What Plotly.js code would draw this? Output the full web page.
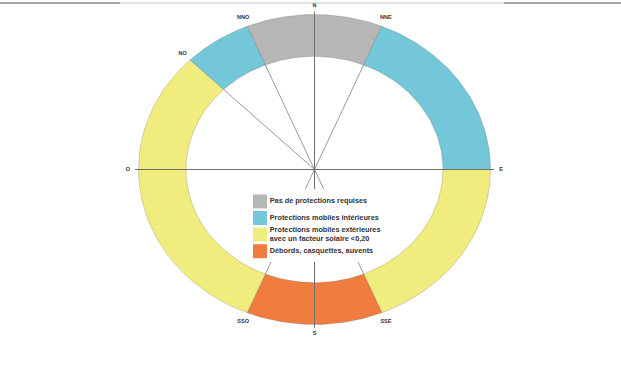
<!DOCTYPE html>
<html>
<head>
<meta charset="utf-8">
<script src="https://cdn.plot.ly/plotly-3.0.1.min.js"></script>
<style>html,body{margin:0;padding:0;background:#fff;}#chart{width:621px;height:376px;}</style>
</head>
<body>
<div id="chart"></div>
<script>
// ---- data ----
const directions = ['N', 'NNE', 'E', 'SSE', 'S', 'SSO', 'O', 'NO', 'NNO'];
const directionAngles = [0, 22.5, 90, 157.5, 180, 202.5, 270, 315, 337.5];
const categories = [
  'Pas de protections requises',
  'Protections mobiles intérieures',
  'Protections mobiles extérieures<br>avec un facteur solaire &lt;0,20',
  'Débords, casquettes, auvents'
];
const categoryColors = ['#b6b6b6', '#74c6d9', '#f1ec7e', '#f07d3f'];
const categoryOrder = [0, 1, 2, 3];
const sectorStart = [-22.5, 22.5, 90, 157.5, 202.5, 315];
const sectorEnd = [22.5, 90, 157.5, 202.5, 315, 337.5];
const sectorCategory = [0, 1, 2, 3, 2, 1];
const guideAngles = [315, 337.5, 22.5, 157.5, 202.5];
const axisAngles = [0, 90];

// ---- geometry helpers (unit circle, compass angles clockwise from north) ----
const R_OUT = 1.0, R_IN = 0.73, R_LABEL = 1.06;
const rad = a => a * Math.PI / 180;
const px = (r, a) => r * Math.sin(rad(a));
const py = (r, a) => r * Math.cos(rad(a));
const FONT = 'Liberation Sans, Arial, sans-serif';

const traces = [];
sectorStart.forEach((s, i) => {
  const e = sectorEnd[i];
  const xs = [], ys = [];
  const n = 40;
  for (let k = 0; k <= n; k++) { const a = s + (e - s) * k / n; xs.push(px(R_OUT, a)); ys.push(py(R_OUT, a)); }
  for (let k = n; k >= 0; k--) { const a = s + (e - s) * k / n; xs.push(px(R_IN, a)); ys.push(py(R_IN, a)); }
  xs.push(xs[0]); ys.push(ys[0]);
  traces.push({
    type: 'scatter', mode: 'lines', x: xs, y: ys, fill: 'toself',
    fillcolor: categoryColors[sectorCategory[i]],
    line: {color: 'rgba(90,90,90,0.25)', width: 1},
    hoverinfo: 'skip', showlegend: false
  });
});

// guide lines from centre to inner ring
const gx = [], gy = [];
guideAngles.forEach(a => { gx.push(0, px(R_IN, a), null); gy.push(0, py(R_IN, a), null); });
traces.push({type: 'scatter', mode: 'lines', x: gx, y: gy, line: {color: '#9a9a9a', width: 1}, hoverinfo: 'skip', showlegend: false});

// full diameters N-S, O-E
const ax = [], ay = [];
axisAngles.forEach(a => { ax.push(px(1.02, a), px(1.02, a + 180), null); ay.push(py(1.02, a), py(1.02, a + 180), null); });
traces.push({type: 'scatter', mode: 'lines', x: ax, y: ay, line: {color: '#6e6e6e', width: 1}, hoverinfo: 'skip', showlegend: false});

// direction labels
traces.push({
  type: 'scatter', mode: 'text',
  x: directionAngles.map(a => px(R_LABEL, a)),
  y: directionAngles.map(a => py(R_LABEL, a)),
  text: directions,
  textfont: {family: FONT, size: 5.5, color: '#333', weight: 'bold'},
  hoverinfo: 'skip', showlegend: false, cliponaxis: false
});

// legend panel (own subplot): white backing + key squares with labels
traces.push({
  type: 'scatter', mode: 'lines', xaxis: 'x2', yaxis: 'y2',
  x: [-1, 9, 9, -1, -1], y: [-0.75, -0.75, 3.65, 3.65, -0.75],
  fill: 'toself', fillcolor: '#fff', line: {width: 0, color: '#fff'},
  hoverinfo: 'skip', showlegend: false
});
traces.push({
  type: 'scatter', mode: 'markers+text', xaxis: 'x2', yaxis: 'y2',
  x: categoryOrder.map(() => 0), y: categoryOrder,
  text: categories, textposition: 'middle right',
  textfont: {family: FONT, size: 7.3, color: '#333', weight: 'bold'},
  marker: {symbol: 'square', size: 14, color: categoryColors},
  hoverinfo: 'skip', showlegend: false, cliponaxis: false
});

const CX = 314.5, CY = 169.5, RX = 176, RY = 155, W = 621, H = 376;
const layout = {
  width: W, height: H,
  margin: {l: 0, r: 0, t: 0, b: 0},
  paper_bgcolor: '#fff', plot_bgcolor: 'rgba(0,0,0,0)',
  xaxis: {range: [-CX / RX, (W - CX) / RX], visible: false, fixedrange: true},
  yaxis: {range: [-(H - CY) / RY, CY / RY], visible: false, fixedrange: true},
  xaxis2: {domain: [246 / W, 386 / W], range: [-1, 9], visible: false, fixedrange: true, anchor: 'y2'},
  yaxis2: {domain: [1 - 262 / H, 1 - 189 / H], range: [3.65, -0.75], visible: false, fixedrange: true, anchor: 'x2'},
  showlegend: false,
  shapes: [
    {type: 'line', xref: 'paper', yref: 'paper', x0: 0, x1: 1, y0: 1 - 3 / H, y1: 1 - 3 / H, line: {color: '#c4c4c4', width: 1}},
    {type: 'line', xref: 'paper', yref: 'paper', x0: 0, x1: 120 / W, y0: 1 - 3 / H, y1: 1 - 3 / H, line: {color: '#a8a8a8', width: 2}},
    {type: 'line', xref: 'paper', yref: 'paper', x0: 504 / W, x1: 1, y0: 1 - 3 / H, y1: 1 - 3 / H, line: {color: '#a8a8a8', width: 2}}
  ],
  hovermode: false
};
Plotly.newPlot('chart', traces, layout, {displayModeBar: false, staticPlot: true});
</script>
</body>
</html>
